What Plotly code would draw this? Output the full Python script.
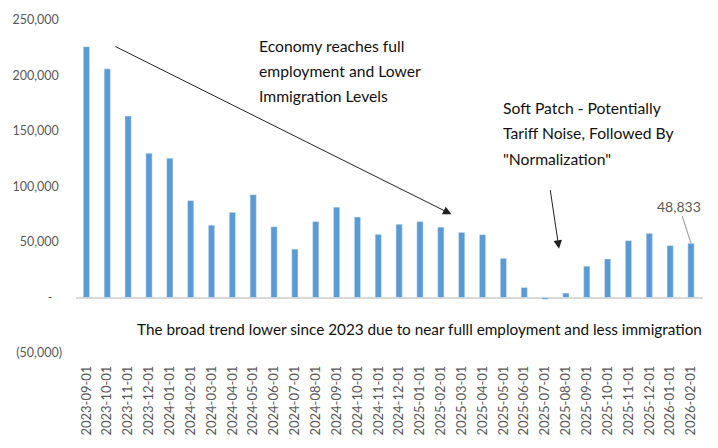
import plotly.graph_objects as go

months = ["2023-09-01","2023-10-01","2023-11-01","2023-12-01","2024-01-01","2024-02-01",
          "2024-03-01","2024-04-01","2024-05-01","2024-06-01","2024-07-01","2024-08-01",
          "2024-09-01","2024-10-01","2024-11-01","2024-12-01","2025-01-01","2025-02-01",
          "2025-03-01","2025-04-01","2025-05-01","2025-06-01","2025-07-01","2025-08-01",
          "2025-09-01","2025-10-01","2025-11-01","2025-12-01","2026-01-01","2026-02-01"]
values = [226000, 206000, 163500, 130000, 125500, 87300,
          65200, 76700, 92600, 63700, 43600, 68400,
          81400, 72500, 56900, 66000, 68400, 63400,
          58700, 56600, 35300, 9000, -1500, 4000,
          28200, 34700, 51200, 57800, 46800, 48833]
ytick_vals = [-50000, 0, 50000, 100000, 150000, 200000, 250000]
ytick_text = ["(50,000)", "-\u00a0\u00a0\u00a0", "50,000\u00a0", "100,000\u00a0", "150,000\u00a0",
              "200,000\u00a0", "250,000\u00a0"]

FONT = "Lato"
fig = go.Figure(go.Bar(x=months, y=values, marker_color="#5b9bd5", width=0.3))

fig.update_layout(
    width=718, height=448,
    margin=dict(l=75, r=15, t=16, b=94),
    plot_bgcolor="white", paper_bgcolor="white",
    showlegend=False,
    font=dict(family=FONT, color="#595959"),
)
fig.update_xaxes(type="category", tickangle=-90, showgrid=False, showline=False,
                 tickfont=dict(size=13, color="#595959"), ticks="", ticklabelstandoff=9)
fig.update_yaxes(range=[-50000, 250000], tickvals=ytick_vals, ticktext=ytick_text,
                 showgrid=False, zeroline=True, zerolinecolor="#d9d9d9", zerolinewidth=1.5,
                 tickfont=dict(size=12.5, color="#595959"), ticks="", ticklabelstandoff=13)

def pxx(p):
    return (p - 75) / (628 / 30) - 0.5

def pxy(p):
    return (298.5 - p) / 338 * 300000

black = dict(family=FONT, size=15.7, color="#111111")
lines1 = ["Economy reaches full", "employment and Lower", "Immigration Levels"]
for i, t in enumerate(lines1):
    fig.add_annotation(xref="paper", yref="paper", x=(256 - 75) / 628, y=(354 - (42 + 25.5 * i)) / 338,
                       text=t, showarrow=False, xanchor="left", yanchor="middle", font=black)
lines2 = ["Soft Patch - Potentially", "Tariff Noise, Followed By", "\"Normalization\""]
for i, t in enumerate(lines2):
    fig.add_annotation(xref="paper", yref="paper", x=(501 - 75) / 628, y=(354 - (105 + 26 * i)) / 338,
                       text=t, showarrow=False, xanchor="left", yanchor="middle", font=black)
fig.add_annotation(xref="paper", yref="paper", x=(419 - 75) / 628, y=(354 - 330) / 338,
                   text="The broad trend lower since 2023 due to near fulll employment and less immigration",
                   showarrow=False, xanchor="center", yanchor="middle",
                   font=dict(family=FONT, size=15.3, color="#111111"))

# arrows
fig.add_annotation(x=pxx(452), y=pxy(214), ax=pxx(113), ay=pxy(43), xref="x", yref="y",
                   axref="x", ayref="y", text="", showarrow=True, arrowhead=2, arrowsize=1.7,
                   arrowwidth=1, arrowcolor="#222222")
fig.add_annotation(x=pxx(560), y=pxy(249), ax=pxx(551), ay=pxy(188), xref="x", yref="y",
                   axref="x", ayref="y", text="", showarrow=True, arrowhead=2, arrowsize=1.7,
                   arrowwidth=1, arrowcolor="#222222")

# data label
fig.add_annotation(x=months[-1], y=values[-1], text=f"{values[-1]:,}", showarrow=True,
                   arrowhead=0, arrowcolor="#a6a6a6", arrowwidth=1.2, ax=-12, ay=-37,
                   font=dict(family=FONT, size=14, color="#595959"))

fig.write_html("out.html")
